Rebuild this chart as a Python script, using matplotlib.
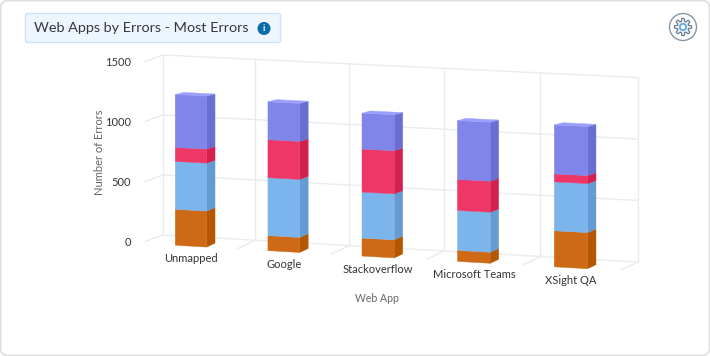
import numpy as np
import matplotlib.pyplot as plt
from matplotlib.patches import FancyBboxPatch, Circle, Polygon

plt.rcParams.update({
    "font.family": ["Lato", "DejaVu Sans"],
})

"""
Data
"""
apps = ['Unmapped', 'Google', 'Stackoverflow', 'Microsoft Teams', 'XSight QA']
series_orange = [291, 121, 144, 88, 286]
series_blue = [388, 467, 369, 319, 389]
series_red = [113, 306, 345, 247, 63]
series_purple = [429, 306, 288, 470, 389]
y_ticks = [0, 500, 1000, 1500]

# front, side, top
colors = [
    ('#CE6A16', '#B55700', '#E08030'),
    ('#7CB5EC', '#649BD0', '#96CCFF'),
    ('#EE3766', '#D4204F', '#FF5580'),
    ('#8085E9', '#696ED1', '#9A9FFF'),
]
grid_color = '#E9EBEF'


def project(u, value, d):
    # u: category position, value: errors, d: depth (0 back wall, 1 front)
    x = 163 + u * (91.5 + 0.7 * u) - 20 * d
    scale = (0.120 + 0.0006 * u) * (1 + 0.03 * d)
    y = 235 + 5.4 * u + 9.4 * d - value * scale
    return x, y


fig = plt.figure(figsize=(7.1, 3.56), dpi=100)
ax = fig.add_axes([0, 0, 1, 1])
ax.set_xlim(0, 710)
ax.set_ylim(356, 0)
ax.axis('off')

# card
ax.add_patch(FancyBboxPatch((0.6, 0.6), 708.8, 354.8, boxstyle='round,pad=0,rounding_size=7',
                            fc='white', ec='#DEDEDE', lw=1.2))

# title box
ax.add_patch(FancyBboxPatch((25.5, 13.5), 255, 29, boxstyle='round,pad=0,rounding_size=2',
                            fc='#EEF6FD', ec='#CFE2F3', lw=1))
ax.text(34, 28.5, 'Web Apps by Errors - Most Errors', fontsize=10.4, color='#33383E',
        va='center', ha='left')
ax.add_patch(Circle((264, 28.5), 6.5, fc='#0A6CA8', ec='none'))
ax.text(264, 28.5, 'i', fontsize=6.5, color='white', fontweight='bold', va='center', ha='center')

# settings button
ax.add_patch(Circle((683, 27), 13.5, fc='white', ec='#8496A8', lw=1))
angles = np.linspace(0, 2 * np.pi, 97)
radius = 7.2 + 1.4 * np.clip(3 * np.cos(8 * angles), -1, 1)
ax.add_patch(Polygon(np.c_[683 + radius * np.cos(angles), 27 + radius * np.sin(angles)],
                     fc='white', ec='#6A7D90', lw=0.9, joinstyle='round'))
ax.add_patch(Circle((683, 27), 3.2, fc='white', ec='#6AB0E6', lw=1.5))

# back wall
for v in y_ticks:
    x0, y0 = project(0, v, 0)
    x1, y1 = project(5, v, 0)
    ax.plot([x0, x1], [y0, y1], color=grid_color, lw=1, zorder=1)
    ax.plot([x0 - 18, x0], [y0 + 6.5, y0], color=grid_color, lw=1, zorder=1)
    ax.text(131, y0 + 7.5, str(v), fontsize=8, color='#333333', ha='right', va='center')
for u in range(6):
    x0, y0 = project(u, 0, 0)
    x1, y1 = project(u, 1500, 0)
    ax.plot([x0, x1], [y0, y1], color=grid_color, lw=1, zorder=1)
    if u > 0:
        ax.plot([x0 - 17, x0], [y0 + 8, y0], color=grid_color, lw=1, zorder=1)

# bars
half = 0.17
front = 0.9
back = 0.48
for i, app in enumerate(apps):
    u = i + 0.5
    base = 0
    stack = [series_orange[i], series_blue[i], series_red[i], series_purple[i]]
    for val, (c_front, c_side, c_top) in zip(stack, colors):
        top = base + val
        side = [project(u + half, base, front), project(u + half, top, front),
                project(u + half, top, back), project(u + half, base, back)]
        face = [project(u - half, base, front), project(u - half, top, front),
                project(u + half, top, front), project(u + half, base, front)]
        ax.add_patch(Polygon(side, fc=c_side, ec=c_side, lw=0.3, zorder=3))
        ax.add_patch(Polygon(face, fc=c_front, ec=c_front, lw=0.3, zorder=3))
        base = top
    lid = [project(u - half, base, front), project(u + half, base, front),
           project(u + half, base, back), project(u - half, base, back)]
    ax.add_patch(Polygon(lid, fc=colors[3][2], ec=colors[3][2], lw=0.3, zorder=3))
    lx, ly = project(u, 0, front)
    ax.text(lx, ly + 12.5, app, fontsize=8, color='#333333', ha='center', va='center')

ax.text(99.5, 152, 'Number of Errors', fontsize=8, color='#666666', rotation=90,
        ha='center', va='center')
ax.text(377, 298.5, 'Web App', fontsize=7.6, color='#666666', ha='center', va='center')

plt.savefig('out.png', dpi=100)
